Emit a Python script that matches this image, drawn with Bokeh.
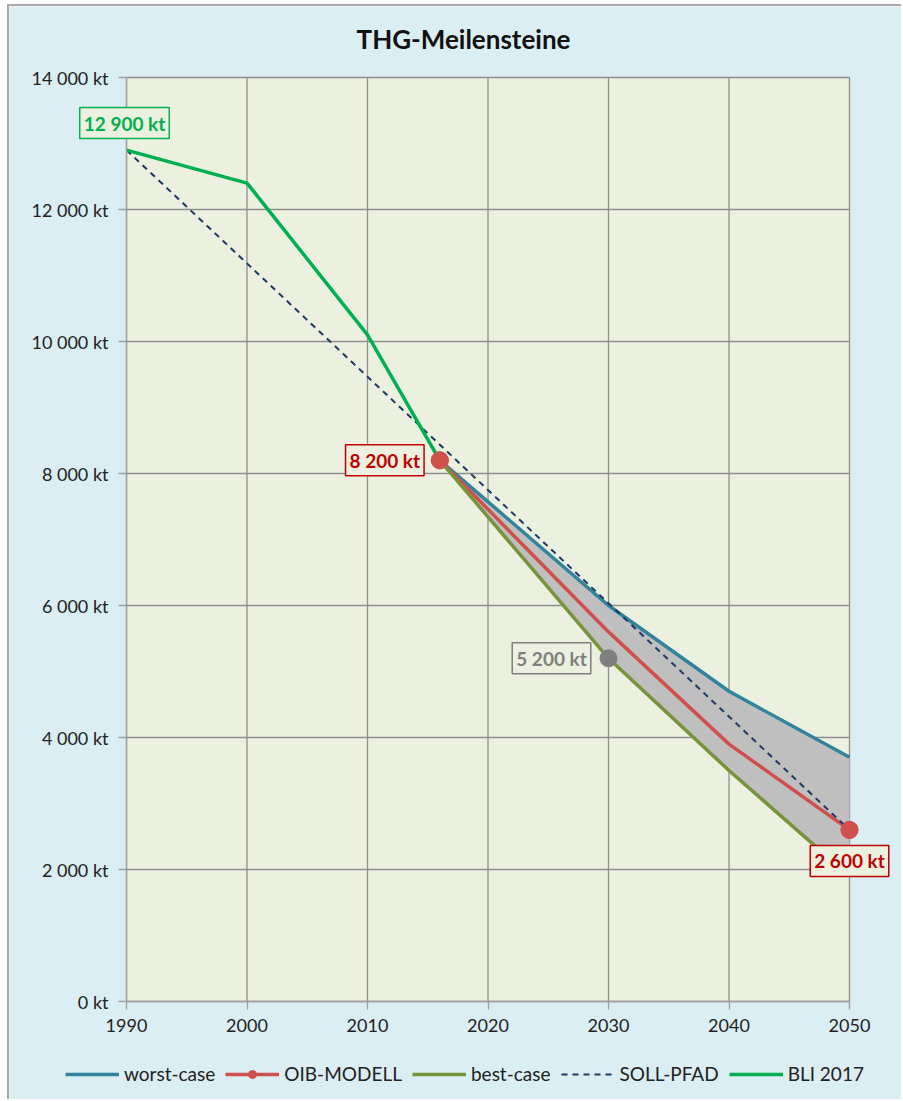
from bokeh.plotting import figure
from bokeh.models import Label, Legend, FixedTicker
from bokeh.embed import file_html
from bokeh.resources import INLINE

# ---- data ----
bli_years = [1990, 2000, 2010, 2016]
bli_values = [12900, 12400, 10100, 8200]

scen_years = [2016, 2030, 2040, 2050]
worst_values = [8200, 6000, 4700, 3700]
oib_values = [8200, 5600, 3900, 2600]
best_values = [8200, 5200, 3500, 1900]

soll_years = [1990, 2050]
soll_values = [12900, 2600]

oib_marker_years = [2016, 2050]
oib_marker_values = [8200, 2600]
gray_marker_years = [2030]
gray_marker_values = [5200]

y_ticks = [0, 2000, 4000, 6000, 8000, 10000, 12000, 14000]
y_tick_labels = ["0 kt", "2 000 kt", "4 000 kt", "6 000 kt", "8 000 kt",
                 "10 000 kt", "12 000 kt", "14 000 kt"]
x_ticks = [1990, 2000, 2010, 2020, 2030, 2040, 2050]
label_texts = ["12 900 kt", "8 200 kt", "5 200 kt", "2 600 kt"]
title_text = "THG-Meilensteine"

# ---- layout (page pixels) ----
FONT = "Lato"
CANVAS_X, CANVAS_Y, CANVAS_W, CANVAS_H = 9, 6, 894, 1095
PLOT_L, PLOT_R, PLOT_T, PLOT_B = 126, 849, 77, 1001

x0, x1 = x_ticks[0], x_ticks[-1]
y0, y1 = y_ticks[0], y_ticks[-1]
sx = (x1 - x0) / (PLOT_R - PLOT_L)
sy = (y1 - y0) / (PLOT_B - PLOT_T)

def px_x(px):
    return x0 + (px - PLOT_L) * sx

def px_y(py):
    return y0 + (PLOT_B - py) * sy

p = figure(width=CANVAS_W, height=CANVAS_H, output_backend="svg", toolbar_location=None,
           x_range=(px_x(CANVAS_X), px_x(CANVAS_X + CANVAS_W)),
           y_range=(px_y(CANVAS_Y + CANVAS_H), px_y(CANVAS_Y)),
           min_border=0)
p.styles = {"margin-left": "7px", "margin-top": "4px",
            "border-left": "2px solid #a8a8a8", "border-top": "2px solid #a8a8a8"}
p.background_fill_color = "#DAEEF3"
p.border_fill_color = "#DAEEF3"
p.outline_line_color = None
p.xgrid.visible = False
p.ygrid.visible = False

# plot area background
p.quad(left=[x0], right=[x1], bottom=[y0], top=[y1], fill_color="#EBF1DE", line_color=None)

# grid lines
p.segment(x0=x_ticks, y0=[y0] * len(x_ticks), x1=x_ticks, y1=[y1] * len(x_ticks),
          line_color="#8f8f8f", line_width=1.3)
p.segment(x0=[x0] * len(y_ticks), y0=y_ticks, x1=[x1] * len(y_ticks), y1=y_ticks,
          line_color="#8f8f8f", line_width=1.3)

# axes at fixed locations
p.xaxis.fixed_location = y0
p.yaxis.fixed_location = x0
p.xaxis.bounds = (x0, x1)
p.yaxis.bounds = (y0, y1)
p.xaxis.ticker = FixedTicker(ticks=x_ticks)
p.yaxis.ticker = FixedTicker(ticks=y_ticks)
p.yaxis.major_label_overrides = {t: l for t, l in zip(y_ticks, y_tick_labels)}
for ax in (p.xaxis, p.yaxis):
    ax.axis_line_color = "#a0a0a0"
    ax.axis_line_width = 1.3
    ax.major_tick_line_color = "#a0a0a0"
    ax.major_tick_line_width = 1.3
    ax.major_tick_out = 8
    ax.major_tick_in = 0
    ax.minor_tick_line_color = None
    ax.major_label_text_font = FONT
    ax.major_label_text_font_size = "18px"
    ax.major_label_text_color = "#222222"
p.xaxis.major_label_standoff = 9
p.yaxis.major_label_standoff = 10

# gray band between worst and best
p.varea(x=scen_years, y1=best_values, y2=worst_values, fill_color="#BFBFBF", fill_alpha=1)

r_worst = p.line(scen_years, worst_values, line_color="#31849B", line_width=3.5)
r_oib = p.line(scen_years, oib_values, line_color="#D0504D", line_width=3.5)
r_oib_m = p.scatter(oib_marker_years, oib_marker_values, size=17, marker="circle",
                    fill_color="#D0504D", line_color="#D0504D")
r_best = p.line(scen_years, best_values, line_color="#77933C", line_width=3.5)
r_soll = p.line(soll_years, soll_values, line_color="#1F3864", line_width=2,
                line_dash="6 5")
r_bli = p.line(bli_years, bli_values, line_color="#00B050", line_width=3.5)
p.scatter(gray_marker_years, gray_marker_values, size=17, marker="circle",
          fill_color="#7F7F7F", line_color="#7F7F7F")
p.scatter(oib_marker_years, oib_marker_values, size=17, marker="circle",
          fill_color="#D0504D", line_color="#D0504D")

# title
p.add_layout(Label(x=px_x(463), y=px_y(38), text=title_text, text_align="center",
                   text_baseline="middle", text_font=FONT, text_font_size="26px",
                   text_font_style="bold", text_color="#111111"))

def box_label(x, y, text, color, xo, yo):
    p.add_layout(Label(x=x, y=y, text=text, x_offset=xo, y_offset=yo,
                       text_align="center", text_baseline="middle",
                       text_font=FONT, text_font_size="19px", text_font_style="bold",
                       text_color=color, background_fill_color="#EBF1DE",
                       border_line_color=color, border_line_width=1.5, padding=4))

box_label(bli_years[0], bli_values[0], label_texts[0], "#00B050", -2, 27)
box_label(oib_marker_years[0], oib_marker_values[0], label_texts[1], "#C00000", -55, 0)
box_label(gray_marker_years[0], gray_marker_values[0], label_texts[2], "#7F7F7F", -57, 0)
box_label(oib_marker_years[1], oib_marker_values[1], label_texts[3], "#C00000", 0, -31)

legend = Legend(items=[("worst-case", [r_worst]), ("OIB-MODELL", [r_oib, r_oib_m]),
                       ("best-case", [r_best]), ("SOLL-PFAD", [r_soll]),
                       ("BLI 2017", [r_bli])],
                orientation="horizontal", location=(52, 12),
                background_fill_alpha=0, border_line_alpha=0,
                label_text_font=FONT, label_text_font_size="19px",
                label_text_color="#222222", glyph_width=54, glyph_height=20,
                label_height=20, spacing=10, label_standoff=5, margin=0, padding=4)
p.add_layout(legend, "center")

open("out.html", "w").write(file_html(p, INLINE))
